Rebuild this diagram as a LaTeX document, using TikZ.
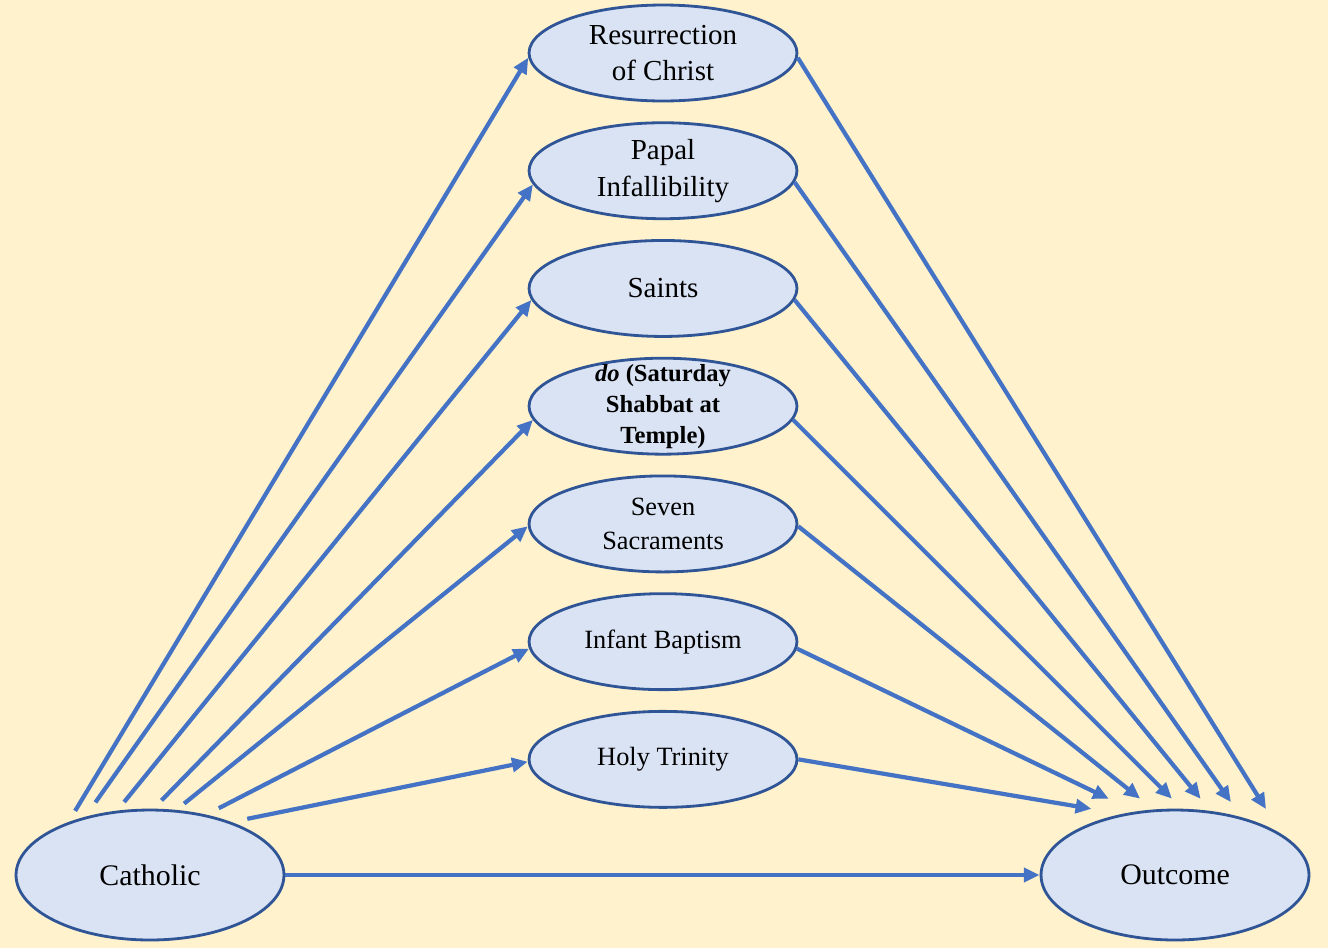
\documentclass[tikz,border=0pt]{standalone}
\usepackage{fontspec}
\setmainfont{Liberation Serif}
\usetikzlibrary{shapes.geometric,arrows.meta,positioning}
\definecolor{bgcream}{HTML}{FFF2CC}
\definecolor{ellfill}{HTML}{DAE3F3}
\definecolor{ellline}{HTML}{2F5597}
\definecolor{arrowblue}{HTML}{4472C4}
\tikzset{
  belief/.style={draw=ellline, fill=ellfill, ellipse, line width=1.6pt,
    minimum width=5.36cm, minimum height=1.92cm, inner sep=0pt, align=center,
    font=\fontsize{16.5}{21}\selectfont},
  sacr/.style={belief, font=\fontsize{15}{19}\selectfont},
  endvar/.style={belief, minimum height=2.6cm, font=\fontsize{17}{20}\selectfont}
}
\begin{document}
\begin{tikzpicture}[x=0.02cm, y=-0.02cm, ->, >={Triangle[length=9pt,width=8pt]},
    every path/.style={draw=arrowblue, line width=2.4pt}, node distance=2.355cm]
			\fill[bgcream, draw=none] (0,0) rectangle (1328,948);
			\node (n0) [belief] at (663,53) {Resurrection\\of Christ};
			\node (n1) [belief, below of = n0] {Papal\\Infallibility};
			\node (n2) [belief, below of = n1] {Saints};
			\node (n3) [belief, below of = n2, inner ysep=-6pt, font=\bfseries\fontsize{14}{17.6}\selectfont] {\textit{do} (Saturday\\Shabbat at\\Temple)};
			\node (n4) [sacr, below of = n3] {Seven\\Sacraments};
			\node (n5) [sacr, below of = n4] {Infant Baptism};
			\node (n6) [sacr, below of = n5] {Holy Trinity};
			\node (cath) [endvar] at (150,875) {Catholic};
			\node (out) [endvar] at (1175,875) {Outcome};
			\draw [shorten <=7.4pt] (cath.147) -> (n0.182);
			\draw [shorten <=10pt] (cath.138) -> (n1.186);
			\draw [shorten <=6.3pt] (cath.117) -> (n2.185);
			\draw [shorten <=6.6pt] (cath.87) -> (n3.186);
			\draw [shorten <=5.7pt] (cath.68) -> (n4.181);
			\draw [shorten <=8pt] (cath.47) -> (n5.183);
			\draw [shorten <=9.1pt] (cath.33) -> (n6.181);
			\draw [shorten >=16.8pt] (n0.-2) -> (out.21);
			\draw [shorten >=10.5pt] (n1.-5) -> (out.41);
			\draw [shorten >=8.9pt] (n2.-5) -> (out.61);
			\draw [shorten >=8.1pt] (n3.-6) -> (out.84);
			\draw [shorten >=9.9pt] (n4.-1) -> (out.108);
			\draw [shorten >=16.8pt] (n5.-3) -> (out.122);
			\draw [shorten >=17.6pt] (n6.0) -> (out.131);
			\draw (cath.east) -> (out.west);
		\end{tikzpicture}
\end{document}
